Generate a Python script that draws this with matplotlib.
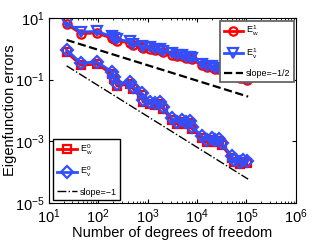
import matplotlib
matplotlib.use("Agg")
import matplotlib.pyplot as plt
import numpy as np

plt.rcParams['font.family'] = ['Liberation Sans', 'DejaVu Sans']
plt.rcParams['mathtext.fontset'] = 'custom'
plt.rcParams['mathtext.rm'] = 'Liberation Sans'
plt.rcParams['mathtext.it'] = 'Liberation Sans'

dofs = [23, 45, 93, 188, 209, 240, 440, 506, 759, 807, 1117, 1410, 1780, 2046,
        3069, 3872, 4887, 5970, 7190, 7890, 12400, 15600, 19800, 23000, 27700,
        31900, 50100, 55700, 73800, 85900, 100700]

Ev1 = [6.9, 3.5, 3.65, 2.5, 2.24, 2.0, 1.73, 1.43, 1.24, 1.15, 1.1, 0.99, 0.99,
       0.85, 0.71, 0.63, 0.63, 0.56, 0.56, 0.505, 0.322, 0.277, 0.277, 0.239,
       0.239, 0.222, 0.153, 0.142, 0.127, 0.122, 0.105]
Ew1 = [6.3, 3.1, 3.25, 2.2, 2.0, 1.8, 1.55, 1.3, 1.12, 1.04, 0.98, 0.89, 0.89,
       0.76, 0.64, 0.57, 0.57, 0.51, 0.5, 0.455, 0.29, 0.25, 0.25, 0.215,
       0.215, 0.2, 0.138, 0.128, 0.115, 0.11, 0.095]
Ev0 = [0.92, 0.34, 0.38, 0.181, 0.122, 0.072, 0.086, 0.058, 0.036, 0.0219,
       0.0193, 0.0175, 0.0193, 0.0133, 0.00558, 0.00433, 0.00492, 0.00433,
       0.00467, 0.00298, 0.00149, 0.0011, 0.00128, 0.0011, 0.00116, 0.00086,
       0.000334, 0.000248, 0.000218, 0.000248, 0.00023]
Ew0 = [0.78, 0.29, 0.32, 0.155, 0.104, 0.062, 0.073, 0.05, 0.031, 0.0188,
       0.0165, 0.015, 0.0164, 0.0114, 0.0048, 0.0037, 0.0042, 0.0037,
       0.004, 0.00255, 0.00127, 0.00094, 0.0011, 0.00094, 0.00099, 0.00074,
       0.00029, 0.000215, 0.00019, 0.000212, 0.000195]

ref_x = [23, 108000]
half_y0 = 1.93
one_y0 = 0.28

red = '#ff0000'
blue = '#3050ff'

fig = plt.figure(figsize=(3.27, 2.45), dpi=100)
ax = fig.add_axes([0.149, 0.171, 0.756, 0.756])

ax.loglog(dofs, Ew1, '-o', color=red, lw=2, ms=6, mfc='none', mew=1.6, label=r'$\mathregular{E_w^1}$')
ax.loglog(dofs, Ev1, '-v', color=blue, lw=2, ms=7, mfc='none', mew=1.6, label=r'$\mathregular{E_v^1}$')
rx = np.array(ref_x, dtype=float)
ax.loglog(rx, half_y0 * (rx / rx[0]) ** -0.5, '--', color='k', lw=1.6, label='slope=\u22121/2')
ax.loglog(dofs, Ew0, '-s', color=red, lw=2, ms=6, mfc='none', mew=1.6, label=r'$\mathregular{E_w^0}$')
ax.loglog(dofs, Ev0, '-D', color=blue, lw=2, ms=6, mfc='none', mew=1.6, label=r'$\mathregular{E_v^0}$')
ax.loglog(rx, one_y0 * (rx / rx[0]) ** -1.0, '-.', color='k', lw=1, label='slope=\u22121')

ax.set_xlim(1e1, 1e6)
ax.set_ylim(1e-5, 1e1)
ax.set_xticks([1e1, 1e2, 1e3, 1e4, 1e5, 1e6])
ax.set_yticks([1e-5, 1e-3, 1e-1, 1e1])
ax.tick_params(which='both', direction='in', top=True, right=True, labelsize=10.5)
ax.tick_params(which='major', length=3, pad=3)
ax.tick_params(which='minor', length=1.5)
ax.yaxis.set_minor_locator(matplotlib.ticker.NullLocator())
ax.set_xlabel('Number of degrees of freedom', fontsize=10.5, labelpad=0)
ax.set_ylabel('Eigenfunction errors', fontsize=10.5, labelpad=0)
ax.yaxis.set_label_coords(-0.128, 0.5)

h, lab = ax.get_legend_handles_labels()
leg1 = ax.legend(h[:3], lab[:3], loc='upper right', bbox_to_anchor=(0.993, 0.985),
                 borderaxespad=0, fontsize=6.5, fancybox=False, edgecolor='#666666',
                 framealpha=1, handlelength=2.2, labelspacing=0.9, handletextpad=0.3,
                 borderpad=0.4)
leg1.get_frame().set_linewidth(1.3)
ax.add_artist(leg1)
leg2 = ax.legend(h[3:], lab[3:], loc='lower left', bbox_to_anchor=(0.019, 0.016),
                 borderaxespad=0, fontsize=6.5, fancybox=False, edgecolor='k',
                 framealpha=1, handlelength=2.2, labelspacing=0.9, handletextpad=0.3,
                 borderpad=0.4)
leg2.get_frame().set_linewidth(1.0)

fig.savefig('out.png', dpi=100)
